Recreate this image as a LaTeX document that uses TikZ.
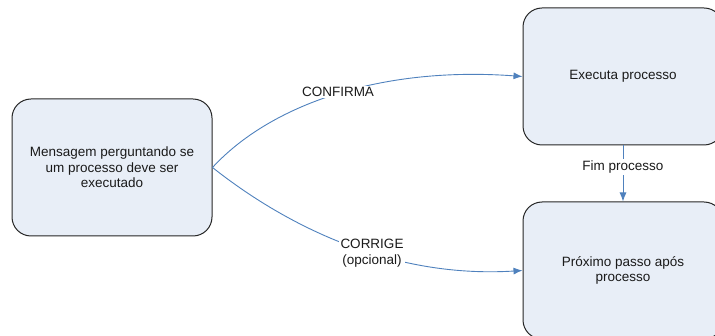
\documentclass[tikz,border=0pt]{standalone}
\usepackage{fontspec}
\setmainfont{Liberation Sans}
\usetikzlibrary{arrows.meta}
\definecolor{boxfill}{HTML}{E8EEF7}
\definecolor{boxline}{HTML}{262626}
\definecolor{arrowblue}{HTML}{4F81BD}
\definecolor{txt}{HTML}{1A1A1A}
\begin{document}
\begin{tikzpicture}[x=1pt,y=-1pt,
  font=\fontsize{13.5}{15.5}\selectfont,
  procbox/.style={draw=boxline, fill=boxfill, line width=1pt, rounded corners=19pt,
    minimum width=200pt, minimum height=137pt, align=center, text=txt, inner sep=0pt},
  conn/.style={draw=arrowblue, line width=0.9pt, -{Latex[length=9pt,width=7pt]}},
  lbl/.style={fill=white, text=txt, inner sep=1.5pt, align=center}]
\useasboundingbox (0,0) rectangle (715,336);
\clip (0,0) rectangle (715,336);
\node[procbox] (msg) at (112,167.5) {Mensagem perguntando se\\um processo deve ser\\executado};
\node[procbox] (exec) at (623,76.5) {Executa processo};
\node[procbox] (next) at (623,270.5) {Próximo passo após\\processo};
\draw[conn] (msg.east) .. controls (270,105) and (380,66) .. (exec.west);
\draw[conn] (msg.east) .. controls (260,205) and (370,280) .. (next.west);
\draw[conn] (exec.south) -- (next.north);
\node[lbl] (lconf) at (338,92) {CONFIRMA};
\node[lbl] (lcorr) at (372,253) {CORRIGE\\(opcional)};
\node[lbl] (lfim) at (623,167) {Fim processo};
\end{tikzpicture}
\end{document}
